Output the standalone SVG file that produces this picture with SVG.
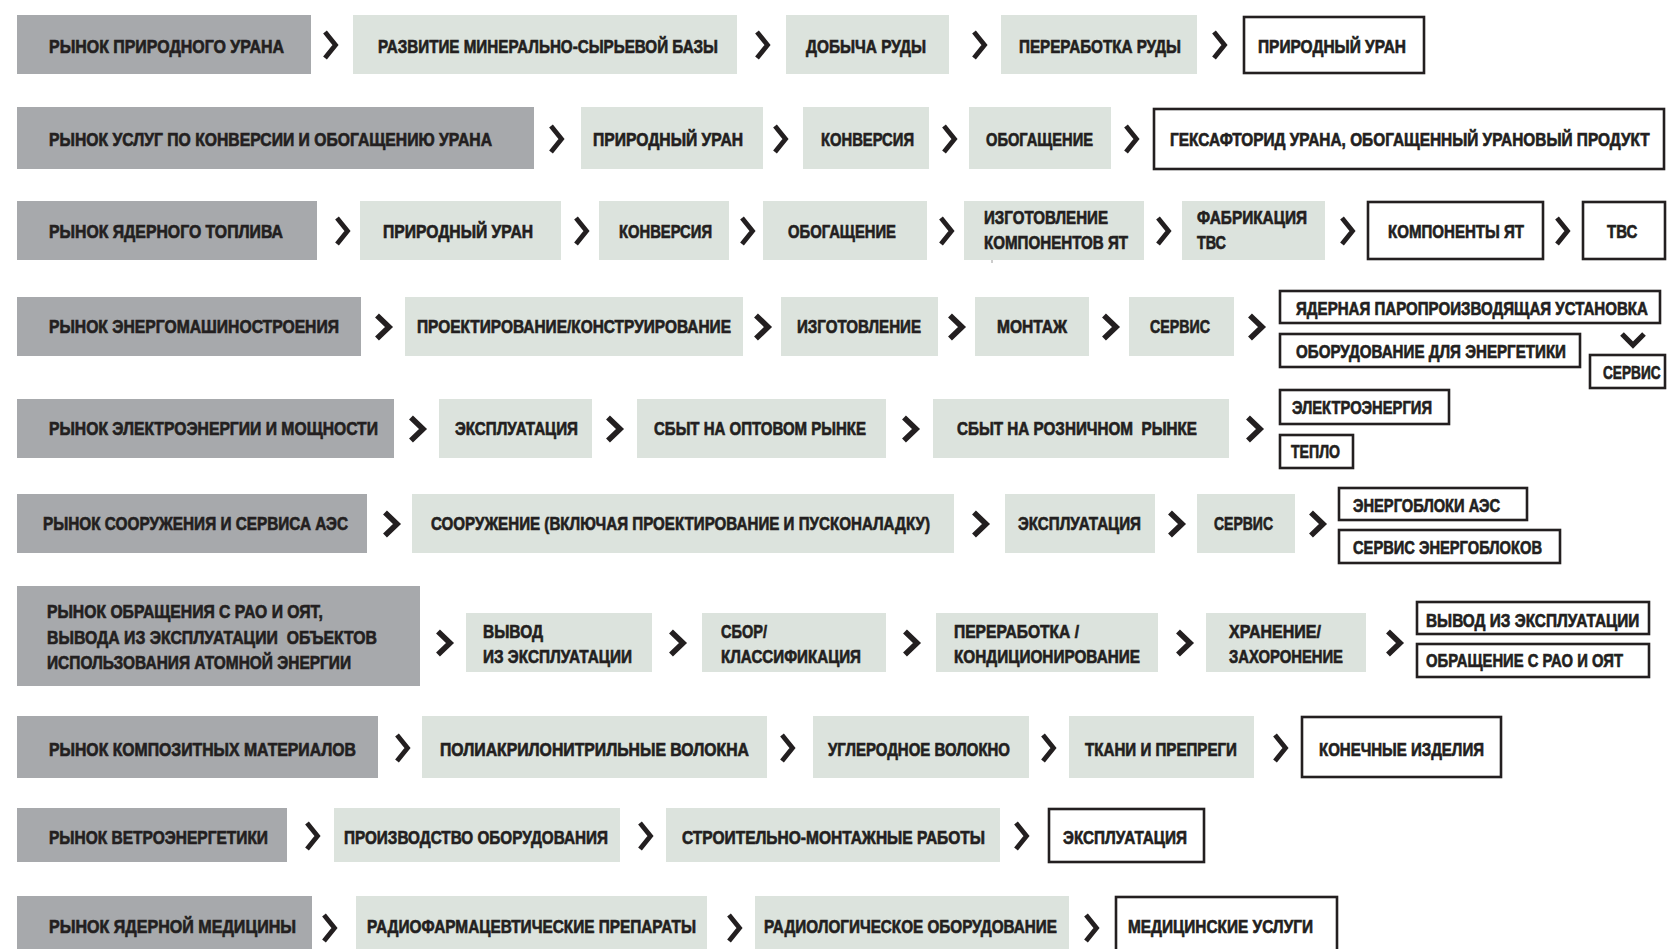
<svg xmlns="http://www.w3.org/2000/svg" xmlns:xlink="http://www.w3.org/1999/xlink" width="1667" height="949" viewBox="0 0 1667 949">
<style>
.g{fill:#a7a9ac}
.l{fill:#dce3dd}
.o{fill:#ffffff;stroke:#231f20;stroke-width:2.6}
text{font-family:"Liberation Sans Narrow","Liberation Sans",Arial,sans-serif;font-weight:bold;font-size:18px;fill:#231f20;stroke:#231f20;stroke-width:0.65px}
</style>
<defs>
<path id="ca" d="M-5,-13 L5.5,0 L-5,13" fill="none" stroke="#231f20" stroke-width="4.8" stroke-linejoin="miter"/>
<path id="cb" d="M-6,-11.5 L6,0 L-6,11.5" fill="none" stroke="#231f20" stroke-width="5.6" stroke-linejoin="miter"/>
<path id="cd" d="M-11,-5 L0,6 L11,-5" fill="none" stroke="#231f20" stroke-width="5.2" stroke-linejoin="miter"/>
</defs>
<rect width="1667" height="949" fill="#ffffff"/>

<g id="connectors">
<use xlink:href="#ca" x="330" y="45"/>
<use xlink:href="#ca" x="762" y="45"/>
<use xlink:href="#ca" x="979" y="45"/>
<use xlink:href="#ca" x="1219" y="45"/>
<use xlink:href="#ca" x="556" y="139"/>
<use xlink:href="#ca" x="780" y="139"/>
<use xlink:href="#ca" x="949" y="139"/>
<use xlink:href="#ca" x="1131" y="139"/>
<use xlink:href="#ca" x="342" y="231"/>
<use xlink:href="#ca" x="581" y="231"/>
<use xlink:href="#ca" x="747" y="231"/>
<use xlink:href="#ca" x="946" y="231"/>
<use xlink:href="#ca" x="1163" y="231"/>
<use xlink:href="#ca" x="1347" y="231"/>
<use xlink:href="#ca" x="1562" y="231"/>
<use xlink:href="#cb" x="383" y="327"/>
<use xlink:href="#cb" x="762" y="327"/>
<use xlink:href="#cb" x="956" y="327"/>
<use xlink:href="#cb" x="1110" y="327"/>
<use xlink:href="#cb" x="1256" y="327"/>
<use xlink:href="#cd" x="1633" y="339"/>
<use xlink:href="#cb" x="417" y="429"/>
<use xlink:href="#cb" x="614" y="429"/>
<use xlink:href="#cb" x="910" y="429"/>
<use xlink:href="#cb" x="1254" y="429"/>
<use xlink:href="#cb" x="391" y="524"/>
<use xlink:href="#cb" x="980" y="524"/>
<use xlink:href="#cb" x="1176" y="524"/>
<use xlink:href="#cb" x="1317" y="524"/>
<use xlink:href="#cb" x="444" y="643"/>
<use xlink:href="#cb" x="677" y="643"/>
<use xlink:href="#cb" x="911" y="643"/>
<use xlink:href="#cb" x="1184" y="643"/>
<use xlink:href="#cb" x="1394" y="643"/>
<use xlink:href="#ca" x="402" y="748"/>
<use xlink:href="#ca" x="787" y="748"/>
<use xlink:href="#ca" x="1048" y="748"/>
<use xlink:href="#ca" x="1280" y="748"/>
<use xlink:href="#ca" x="312" y="836"/>
<use xlink:href="#ca" x="645" y="836"/>
<use xlink:href="#ca" x="1021" y="836"/>
<use xlink:href="#ca" x="329" y="928"/>
<use xlink:href="#ca" x="734" y="928"/>
<use xlink:href="#ca" x="1091" y="928"/>
<line x1="992" y1="253" x2="992" y2="263" stroke="#9a9a9a" stroke-width="1"/>
</g>

<!-- Row 1 -->
<g id="r1_market"><rect class="g" x="17" y="15" width="294" height="59"/><text x="49" y="53" textLength="235" lengthAdjust="spacingAndGlyphs">РЫНОК ПРИРОДНОГО УРАНА</text></g>
<g id="r1_s1"><rect class="l" x="353" y="15" width="384" height="59"/><text x="378" y="53" textLength="340" lengthAdjust="spacingAndGlyphs">РАЗВИТИЕ МИНЕРАЛЬНО-СЫРЬЕВОЙ БАЗЫ</text></g>
<g id="r1_s2"><rect class="l" x="786" y="15" width="163" height="59"/><text x="806" y="53" textLength="120" lengthAdjust="spacingAndGlyphs">ДОБЫЧА РУДЫ</text></g>
<g id="r1_s3"><rect class="l" x="1001" y="15" width="196" height="59"/><text x="1019" y="53" textLength="162" lengthAdjust="spacingAndGlyphs">ПЕРЕРАБОТКА РУДЫ</text></g>
<g id="r1_out"><rect class="o" x="1244" y="17" width="180" height="56"/><text x="1258" y="53" textLength="148" lengthAdjust="spacingAndGlyphs">ПРИРОДНЫЙ УРАН</text></g>

<!-- Row 2 -->
<g id="r2_market"><rect class="g" x="17" y="107" width="517" height="62"/><text x="49" y="146" textLength="443" lengthAdjust="spacingAndGlyphs">РЫНОК УСЛУГ ПО КОНВЕРСИИ И ОБОГАЩЕНИЮ УРАНА</text></g>
<g id="r2_s1"><rect class="l" x="581" y="107" width="182" height="62"/><text x="593" y="146" textLength="150" lengthAdjust="spacingAndGlyphs">ПРИРОДНЫЙ УРАН</text></g>
<g id="r2_s2"><rect class="l" x="803" y="107" width="126" height="62"/><text x="821" y="146" textLength="93" lengthAdjust="spacingAndGlyphs">КОНВЕРСИЯ</text></g>
<g id="r2_s3"><rect class="l" x="969" y="107" width="142" height="62"/><text x="986" y="146" textLength="107" lengthAdjust="spacingAndGlyphs">ОБОГАЩЕНИЕ</text></g>
<g id="r2_out"><rect class="o" x="1154" y="109" width="510" height="60"/><text transform="translate(1170,146) scale(0.84,1)" x="0" y="0" textLength="571" lengthAdjust="spacingAndGlyphs">ГЕКСАФТОРИД УРАНА, ОБОГАЩЕННЫЙ УРАНОВЫЙ ПРОДУКТ</text></g>

<!-- Row 3 -->
<g id="r3_market"><rect class="g" x="17" y="201" width="300" height="59"/><text x="49" y="238" textLength="234" lengthAdjust="spacingAndGlyphs">РЫНОК ЯДЕРНОГО ТОПЛИВА</text></g>
<g id="r3_s1"><rect class="l" x="360" y="201" width="201" height="59"/><text x="383" y="238" textLength="150" lengthAdjust="spacingAndGlyphs">ПРИРОДНЫЙ УРАН</text></g>
<g id="r3_s2"><rect class="l" x="599" y="201" width="130" height="59"/><text x="619" y="238" textLength="93" lengthAdjust="spacingAndGlyphs">КОНВЕРСИЯ</text></g>
<g id="r3_s3"><rect class="l" x="763" y="201" width="164" height="59"/><text x="788" y="238" textLength="108" lengthAdjust="spacingAndGlyphs">ОБОГАЩЕНИЕ</text></g>
<g id="r3_s4"><rect class="l" x="964" y="201" width="180" height="59"/><text x="984" y="224" textLength="124" lengthAdjust="spacingAndGlyphs">ИЗГОТОВЛЕНИЕ</text><text x="984" y="249" textLength="144" lengthAdjust="spacingAndGlyphs">КОМПОНЕНТОВ ЯТ</text></g>
<g id="r3_s5"><rect class="l" x="1182" y="201" width="143" height="59"/><text x="1197" y="224" textLength="110" lengthAdjust="spacingAndGlyphs">ФАБРИКАЦИЯ</text><text x="1197" y="249" textLength="29" lengthAdjust="spacingAndGlyphs">ТВС</text></g>
<g id="r3_out1"><rect class="o" x="1368" y="202" width="175" height="57"/><text x="1388" y="238" textLength="136" lengthAdjust="spacingAndGlyphs">КОМПОНЕНТЫ ЯТ</text></g>
<g id="r3_out2"><rect class="o" x="1583" y="202" width="82" height="57"/><text transform="translate(1607,238) scale(0.84,1)" x="0" y="0" textLength="36" lengthAdjust="spacingAndGlyphs">ТВС</text></g>

<!-- Row 4 -->
<g id="r4_market"><rect class="g" x="17" y="297" width="344" height="59"/><text x="49" y="333" textLength="290" lengthAdjust="spacingAndGlyphs">РЫНОК ЭНЕРГОМАШИНОСТРОЕНИЯ</text></g>
<g id="r4_s1"><rect class="l" x="405" y="297" width="338" height="59"/><text x="417" y="333" textLength="314" lengthAdjust="spacingAndGlyphs">ПРОЕКТИРОВАНИЕ/КОНСТРУИРОВАНИЕ</text></g>
<g id="r4_s2"><rect class="l" x="781" y="297" width="157" height="59"/><text x="797" y="333" textLength="124" lengthAdjust="spacingAndGlyphs">ИЗГОТОВЛЕНИЕ</text></g>
<g id="r4_s3"><rect class="l" x="975" y="297" width="114" height="59"/><text x="997" y="333" textLength="70" lengthAdjust="spacingAndGlyphs">МОНТАЖ</text></g>
<g id="r4_s4"><rect class="l" x="1129" y="297" width="105" height="59"/><text x="1150" y="333" textLength="60" lengthAdjust="spacingAndGlyphs">СЕРВИС</text></g>
<g id="r4_out1"><rect class="o" x="1280" y="291" width="380" height="32"/><text transform="translate(1296,315) scale(0.84,1)" x="0" y="0" textLength="419" lengthAdjust="spacingAndGlyphs">ЯДЕРНАЯ ПАРОПРОИЗВОДЯЩАЯ УСТАНОВКА</text></g>
<g id="r4_out2"><rect class="o" x="1280" y="334" width="300" height="33"/><text x="1296" y="358" textLength="270" lengthAdjust="spacingAndGlyphs">ОБОРУДОВАНИЕ ДЛЯ ЭНЕРГЕТИКИ</text></g>
<g id="r4_out3"><rect class="o" x="1590" y="355" width="75" height="33"/><text transform="translate(1603,379) scale(0.8,1)" x="0" y="0" textLength="72" lengthAdjust="spacingAndGlyphs">СЕРВИС</text></g>

<!-- Row 5 -->
<g id="r5_market"><rect class="g" x="17" y="399" width="377" height="59"/><text x="49" y="435" textLength="329" lengthAdjust="spacingAndGlyphs">РЫНОК ЭЛЕКТРОЭНЕРГИИ И МОЩНОСТИ</text></g>
<g id="r5_s1"><rect class="l" x="439" y="399" width="153" height="59"/><text x="455" y="435" textLength="123" lengthAdjust="spacingAndGlyphs">ЭКСПЛУАТАЦИЯ</text></g>
<g id="r5_s2"><rect class="l" x="637" y="399" width="249" height="59"/><text x="654" y="435" textLength="212" lengthAdjust="spacingAndGlyphs">СБЫТ НА ОПТОВОМ РЫНКЕ</text></g>
<g id="r5_s3"><rect class="l" x="933" y="399" width="296" height="59"/><text x="957" y="435" textLength="240" lengthAdjust="spacingAndGlyphs" xml:space="preserve">СБЫТ НА РОЗНИЧНОМ  РЫНКЕ</text></g>
<g id="r5_out1"><rect class="o" x="1280" y="390" width="169" height="34"/><text x="1292" y="414" textLength="140" lengthAdjust="spacingAndGlyphs">ЭЛЕКТРОЭНЕРГИЯ</text></g>
<g id="r5_out2"><rect class="o" x="1280" y="435" width="73" height="33"/><text x="1291" y="458" textLength="49" lengthAdjust="spacingAndGlyphs">ТЕПЛО</text></g>

<!-- Row 6 -->
<g id="r6_market"><rect class="g" x="17" y="494" width="350" height="59"/><text x="43" y="530" textLength="305" lengthAdjust="spacingAndGlyphs">РЫНОК СООРУЖЕНИЯ И СЕРВИСА АЭС</text></g>
<g id="r6_s1"><rect class="l" x="412" y="494" width="542" height="59"/><text x="431" y="530" textLength="499" lengthAdjust="spacingAndGlyphs">СООРУЖЕНИЕ (ВКЛЮЧАЯ ПРОЕКТИРОВАНИЕ И ПУСКОНАЛАДКУ)</text></g>
<g id="r6_s2"><rect class="l" x="1005" y="494" width="150" height="59"/><text x="1018" y="530" textLength="123" lengthAdjust="spacingAndGlyphs">ЭКСПЛУАТАЦИЯ</text></g>
<g id="r6_s3"><rect class="l" x="1197" y="494" width="98" height="59"/><text x="1214" y="530" textLength="59" lengthAdjust="spacingAndGlyphs">СЕРВИС</text></g>
<g id="r6_out1"><rect class="o" x="1339" y="488" width="188" height="32"/><text x="1353" y="512" textLength="147" lengthAdjust="spacingAndGlyphs">ЭНЕРГОБЛОКИ АЭС</text></g>
<g id="r6_out2"><rect class="o" x="1339" y="530" width="221" height="33"/><text x="1353" y="554" textLength="189" lengthAdjust="spacingAndGlyphs">СЕРВИС ЭНЕРГОБЛОКОВ</text></g>

<!-- Row 7 -->
<g id="r7_market"><rect class="g" x="17" y="586" width="403" height="100"/>
<text x="47" y="618" textLength="276" lengthAdjust="spacingAndGlyphs">РЫНОК ОБРАЩЕНИЯ С РАО И ОЯТ,</text>
<text x="47" y="644" textLength="330" lengthAdjust="spacingAndGlyphs" xml:space="preserve">ВЫВОДА ИЗ ЭКСПЛУАТАЦИИ  ОБЪЕКТОВ</text>
<text x="47" y="669" textLength="304" lengthAdjust="spacingAndGlyphs">ИСПОЛЬЗОВАНИЯ АТОМНОЙ ЭНЕРГИИ</text></g>
<g id="r7_s1"><rect class="l" x="466" y="613" width="186" height="59"/><text x="483" y="638" textLength="60" lengthAdjust="spacingAndGlyphs">ВЫВОД</text><text x="483" y="663" textLength="149" lengthAdjust="spacingAndGlyphs">ИЗ ЭКСПЛУАТАЦИИ</text></g>
<g id="r7_s2"><rect class="l" x="702" y="613" width="184" height="59"/><text x="721" y="638" textLength="46" lengthAdjust="spacingAndGlyphs">СБОР/</text><text x="721" y="663" textLength="140" lengthAdjust="spacingAndGlyphs">КЛАССИФИКАЦИЯ</text></g>
<g id="r7_s3"><rect class="l" x="936" y="613" width="222" height="59"/><text x="954" y="638" textLength="125" lengthAdjust="spacingAndGlyphs">ПЕРЕРАБОТКА /</text><text x="954" y="663" textLength="186" lengthAdjust="spacingAndGlyphs">КОНДИЦИОНИРОВАНИЕ</text></g>
<g id="r7_s4"><rect class="l" x="1206" y="613" width="160" height="59"/><text x="1229" y="638" textLength="92" lengthAdjust="spacingAndGlyphs">ХРАНЕНИЕ/</text><text x="1229" y="663" textLength="114" lengthAdjust="spacingAndGlyphs">ЗАХОРОНЕНИЕ</text></g>
<g id="r7_out1"><rect class="o" x="1417" y="602" width="232" height="32"/><text transform="translate(1426,627) scale(0.84,1)" x="0" y="0" textLength="254" lengthAdjust="spacingAndGlyphs">ВЫВОД ИЗ ЭКСПЛУАТАЦИИ</text></g>
<g id="r7_out2"><rect class="o" x="1417" y="644" width="232" height="33"/><text x="1426" y="667" textLength="197" lengthAdjust="spacingAndGlyphs">ОБРАЩЕНИЕ С РАО И ОЯТ</text></g>

<!-- Row 8 -->
<g id="r8_market"><rect class="g" x="17" y="716" width="361" height="62"/><text x="49" y="756" textLength="307" lengthAdjust="spacingAndGlyphs">РЫНОК КОМПОЗИТНЫХ МАТЕРИАЛОВ</text></g>
<g id="r8_s1"><rect class="l" x="422" y="716" width="345" height="62"/><text x="440" y="756" textLength="309" lengthAdjust="spacingAndGlyphs">ПОЛИАКРИЛОНИТРИЛЬНЫЕ ВОЛОКНА</text></g>
<g id="r8_s2"><rect class="l" x="813" y="716" width="216" height="62"/><text x="828" y="756" textLength="182" lengthAdjust="spacingAndGlyphs">УГЛЕРОДНОЕ ВОЛОКНО</text></g>
<g id="r8_s3"><rect class="l" x="1069" y="716" width="185" height="62"/><text x="1085" y="756" textLength="152" lengthAdjust="spacingAndGlyphs">ТКАНИ И ПРЕПРЕГИ</text></g>
<g id="r8_out"><rect class="o" x="1302" y="717" width="199" height="60"/><text x="1319" y="756" textLength="165" lengthAdjust="spacingAndGlyphs">КОНЕЧНЫЕ ИЗДЕЛИЯ</text></g>

<!-- Row 9 -->
<g id="r9_market"><rect class="g" x="17" y="808" width="270" height="54"/><text x="49" y="844" textLength="219" lengthAdjust="spacingAndGlyphs">РЫНОК ВЕТРОЭНЕРГЕТИКИ</text></g>
<g id="r9_s1"><rect class="l" x="334" y="808" width="286" height="54"/><text x="344" y="844" textLength="264" lengthAdjust="spacingAndGlyphs">ПРОИЗВОДСТВО ОБОРУДОВАНИЯ</text></g>
<g id="r9_s2"><rect class="l" x="666" y="808" width="334" height="54"/><text x="682" y="844" textLength="303" lengthAdjust="spacingAndGlyphs">СТРОИТЕЛЬНО-МОНТАЖНЫЕ РАБОТЫ</text></g>
<g id="r9_out"><rect class="o" x="1049" y="809" width="155" height="53"/><text x="1063" y="844" textLength="124" lengthAdjust="spacingAndGlyphs">ЭКСПЛУАТАЦИЯ</text></g>

<!-- Row 10 -->
<g id="r10_market"><rect class="g" x="17" y="896" width="295" height="60"/><text x="49" y="933" textLength="247" lengthAdjust="spacingAndGlyphs">РЫНОК ЯДЕРНОЙ МЕДИЦИНЫ</text></g>
<g id="r10_s1"><rect class="l" x="356" y="896" width="351" height="60"/><text x="367" y="933" textLength="329" lengthAdjust="spacingAndGlyphs">РАДИОФАРМАЦЕВТИЧЕСКИЕ ПРЕПАРАТЫ</text></g>
<g id="r10_s2"><rect class="l" x="755" y="896" width="314" height="60"/><text x="764" y="933" textLength="293" lengthAdjust="spacingAndGlyphs">РАДИОЛОГИЧЕСКОЕ ОБОРУДОВАНИЕ</text></g>
<g id="r10_out"><rect class="o" x="1116" y="897" width="221" height="60"/><text x="1128" y="933" textLength="185" lengthAdjust="spacingAndGlyphs">МЕДИЦИНСКИЕ УСЛУГИ</text></g>
</svg>
